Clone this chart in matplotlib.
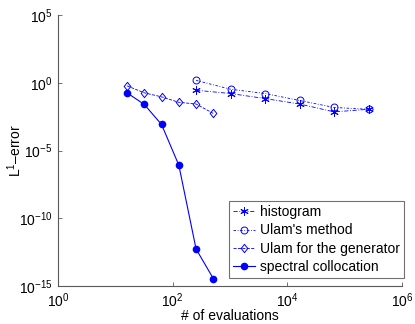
import numpy as np
import matplotlib
matplotlib.use('Agg')
import matplotlib.pyplot as plt

plt.rcParams['font.family'] = ['Liberation Sans', 'DejaVu Sans']
plt.rcParams['mathtext.fontset'] = 'custom'
plt.rcParams['mathtext.rm'] = 'Liberation Sans'

# data
n_hist = [256, 1024, 4096, 16384, 65536, 262144]
err_hist = [0.28, 0.16, 0.068, 0.027, 0.0071, 0.011]

n_ulam = [256, 1024, 4096, 16384, 65536, 262144]
err_ulam = [1.5, 0.33, 0.16, 0.049, 0.015, 0.011]

n_gen = [16, 32, 64, 128, 256, 512]
err_gen = [0.59, 0.18, 0.091, 0.036, 0.027, 0.0054]

n_spec = [16, 32, 64, 128, 256, 512]
err_spec = [0.18, 0.025, 8.3e-4, 8.3e-7, 5.4e-13, 3.5e-15]

diamond = [(0, 1), (0.8, 0), (0, -1), (-0.8, 0), (0, 1)]

fig = plt.figure(figsize=(4.15, 3.24), dpi=100)
ax = fig.add_axes([58/415, 1 - 286/324, 344/415, 271/324])

ax.loglog(n_hist, err_hist, color='b', marker=(6, 2, 0), markersize=6, linewidth=0.6,
          markeredgewidth=0.7, dashes=(5, 2, 1, 2), label='histogram')
ax.loglog(n_ulam, err_ulam, color='b', marker='o', markersize=5, linewidth=0.6,
          markerfacecolor='none', markeredgewidth=0.7, dashes=(3, 2, 1, 2), label="Ulam's method")
ax.loglog(n_gen, err_gen, '--', color='b', marker=diamond, markersize=6, linewidth=0.6,
          markerfacecolor='none', markeredgewidth=0.7, label='Ulam for the generator')
ax.loglog(n_spec, err_spec, '-', color='b', marker='o', markersize=4.5, linewidth=0.8,
          label='spectral collocation')

ax.set_xlim(1, 1e6)
ax.set_ylim(1e-15, 1e5)
ax.set_xticks([1, 1e2, 1e4, 1e6])
ax.set_yticks([1e-15, 1e-10, 1e-5, 1, 1e5])
ax.minorticks_off()
ax.tick_params(direction='in', length=3, width=0.6, color='0.35', labelsize=10, pad=4)
for s in ['top', 'right']:
    ax.spines[s].set_visible(False)
for s in ['left', 'bottom']:
    ax.spines[s].set_color('0.35')
    ax.spines[s].set_linewidth(0.8)

ax.set_xlabel('# of evaluations', fontsize=10, labelpad=-1)
ax.set_ylabel('L$^1$\u2013error', fontsize=10)
ax.yaxis.set_label_coords(-0.1, 0.5)

leg = ax.legend(loc='lower right', fontsize=10, frameon=True, fancybox=False,
                handlelength=1.6, handletextpad=0.3, borderpad=0.3, labelspacing=0.3,
                borderaxespad=0.0, bbox_to_anchor=(1.005, 0.03))
leg.get_frame().set_edgecolor('0.3')
leg.get_frame().set_linewidth(0.8)

fig.savefig('out.png', dpi=100)
